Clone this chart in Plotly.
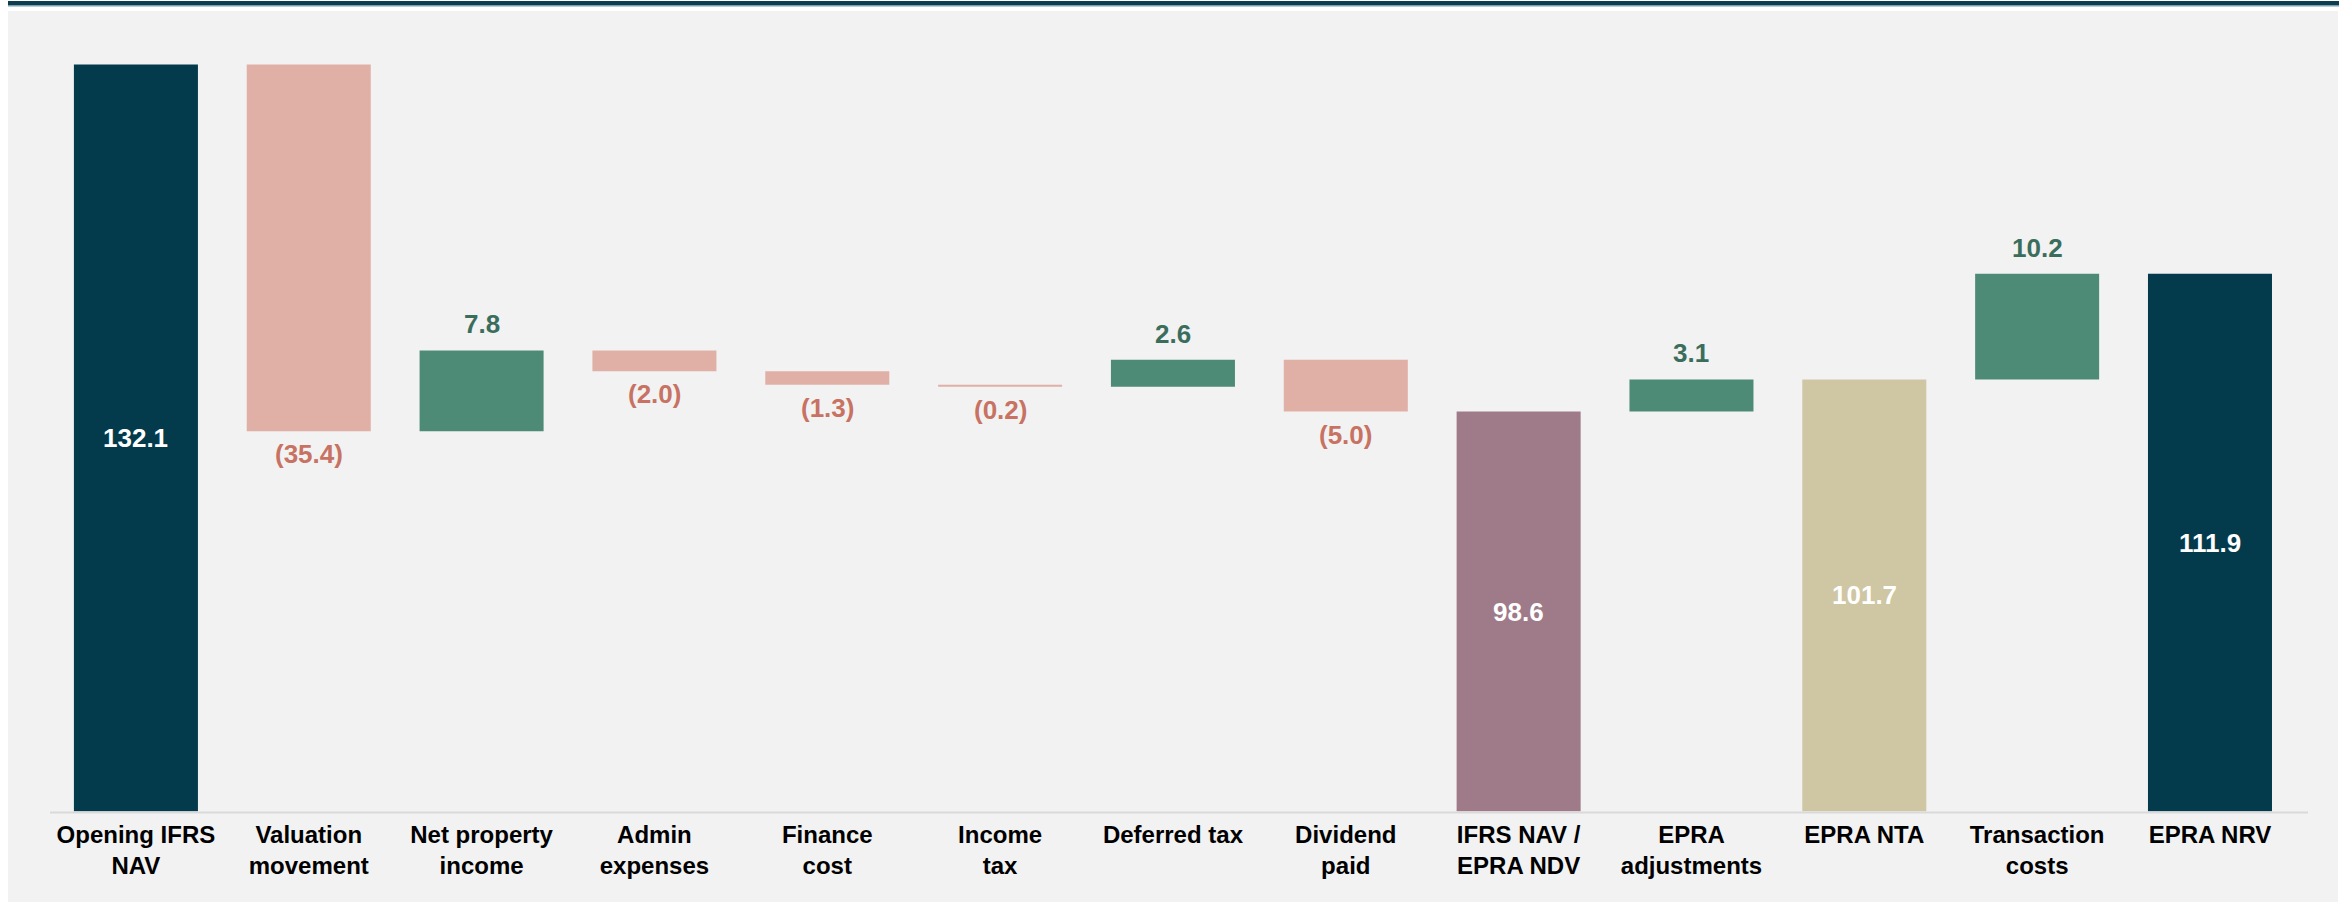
import plotly.graph_objects as go

# NAV bridge: opening NAV, movements, and closing EPRA measures
categories = [
    "Opening IFRS<br>NAV", "Valuation<br>movement", "Net property<br>income",
    "Admin<br>expenses", "Finance<br>cost", "Income<br>tax", "Deferred tax",
    "Dividend<br>paid", "IFRS NAV /<br>EPRA NDV", "EPRA<br>adjustments",
    "EPRA NTA", "Transaction<br>costs", "EPRA NRV",
]
values = [132.1, -35.4, 7.8, -2.0, -1.3, -0.2, 2.6, -5.0, 98.6, 3.1, 101.7, 10.2, 111.9]
is_total = [True, False, False, False, False, False, False, False, True, False, True, False, True]
total_colors = {0: "#033b4d", 8: "#9f7a89", 10: "#cfc6a3", 12: "#033b4d"}

W, H = 2351, 902
Y_MIN = 60.0
PX_PER_UNIT = 10.3606
AXIS_PX = 811.5      # pixel row of the category axis
TOP_PX = 20.0        # pixel row of the top of the plotting area
y_max = Y_MIN + (AXIS_PX - TOP_PX) / PX_PER_UNIT

UP_COLOR, DOWN_COLOR = "#4e8b76", "#e0b0a6"
UP_TEXT, DOWN_TEXT = "#3b6d5c", "#c77262"
FONT = "Arial, 'Liberation Sans', sans-serif"

# running totals -> bar bases
bases, heights, colors = [], [], []
level = 0.0
for i, v in enumerate(values):
    if is_total[i]:
        bases.append(Y_MIN)
        heights.append(v - Y_MIN)
        colors.append(total_colors[i])
        level = v
    else:
        bases.append(level)
        heights.append(v)
        colors.append(UP_COLOR if v >= 0 else DOWN_COLOR)
        level += v

fig = go.Figure(go.Bar(
    x=categories, y=heights, base=bases,
    marker=dict(color=colors, line=dict(width=0)),
    hoverinfo="skip",
))

annotations = []
for i, v in enumerate(values):
    if is_total[i]:
        annotations.append(dict(
            x=categories[i], y=(Y_MIN + v) / 2, text=f"<b>{v:.1f}</b>",
            showarrow=False, xanchor="center", yanchor="middle",
            font=dict(family=FONT, size=26, color="white"),
        ))
    else:
        end = bases[i] + v
        if v >= 0:
            txt, col, shift = f"<b>{v:.1f}</b>", UP_TEXT, 26
        else:
            txt, col, shift = f"<b>({abs(v):.1f})</b>", DOWN_TEXT, -23
        annotations.append(dict(
            x=categories[i], y=end, text=txt, showarrow=False,
            xanchor="center", yanchor="middle", yshift=shift,
            font=dict(family=FONT, size=26, color=col),
        ))


def px_x(p):
    return p / W


def px_y(p):
    return 1 - p / H


shapes = [
    # grey panel behind the chart
    dict(type="rect", xref="paper", yref="paper", layer="below",
         x0=px_x(8), x1=px_x(2338), y0=px_y(902), y1=px_y(11),
         fillcolor="#f2f2f2", line=dict(width=0)),
    # header rule
    dict(type="rect", xref="paper", yref="paper",
         x0=px_x(8), x1=px_x(2339), y0=px_y(5), y1=px_y(1),
         fillcolor="#0d3e50", line=dict(width=0)),
    dict(type="rect", xref="paper", yref="paper",
         x0=px_x(8), x1=px_x(2339), y0=px_y(6.5), y1=px_y(5),
         fillcolor="#7aa0ad", line=dict(width=0)),
    # category axis line
    dict(type="line", xref="paper", yref="paper",
         x0=px_x(50), x1=px_x(2308), y0=px_y(AXIS_PX + 1), y1=px_y(AXIS_PX + 1),
         line=dict(color="#d9d9d9", width=2)),
]

fig.update_layout(
    width=W, height=H,
    margin=dict(l=0, r=0, t=0, b=0),
    paper_bgcolor="white", plot_bgcolor="rgba(0,0,0,0)",
    bargap=0.2825, showlegend=False,
    annotations=annotations, shapes=shapes,
    xaxis=dict(
        domain=[px_x(49.5), px_x(2296.4)],
        type="category", showgrid=False, showline=False, zeroline=False,
        ticks="", ticklabelstandoff=6,
        tickfont=dict(family=FONT, size=24, color="#000000", weight="bold"),
        anchor="y",
    ),
    yaxis=dict(
        domain=[px_y(AXIS_PX), px_y(TOP_PX)],
        range=[Y_MIN, y_max], visible=False, showgrid=False, zeroline=False,
    ),
)

fig.write_html("out.html")
